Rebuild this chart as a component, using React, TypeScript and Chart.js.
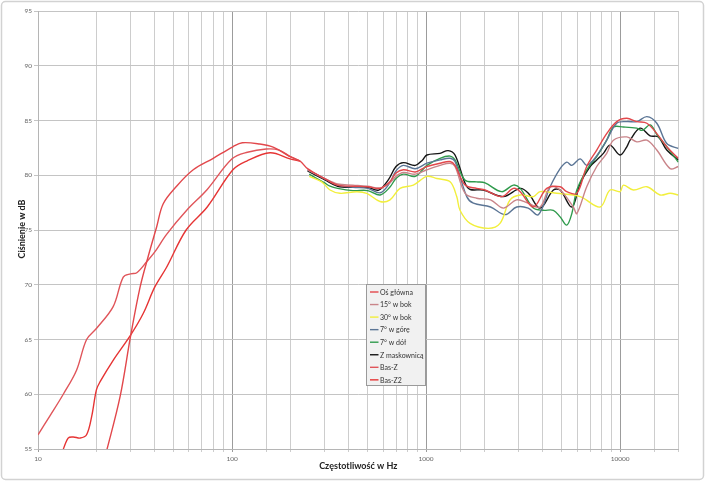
import React, { useEffect, useRef } from 'react';
import { Chart, registerables } from 'chart.js';

Chart.register(...registerables);

// ---------- data (frequency in Hz, level in dB) ----------
const xTickLabels = [10, 100, 1000, 10000];
const yTicks = [55, 60, 65, 70, 75, 80, 85, 90, 95];

const osFreq = [22, 22.7, 26.5, 30, 33.6, 37, 40.9, 44.2, 51.8, 63.1, 80, 101, 113, 139, 164, 199, 224, 245, 300, 350, 420, 500, 580, 650, 700, 764, 880, 960, 1010, 1180, 1330, 1410, 1590, 1824, 2014, 2454, 2818, 3056, 3573, 4188, 4909, 5310, 5985, 6730, 7580, 8530, 9610, 10830, 12190, 13740, 15460, 17400, 19950];
const osDb = [54.2, 55.0, 59.8, 65.3, 69.8, 72.6, 75.3, 77.4, 79.0, 80.5, 81.55, 82.6, 82.97, 82.85, 82.55, 81.7, 81.3, 80.6, 79.7, 79.1, 79.0, 78.95, 78.8, 79.4, 80.2, 80.5, 80.3, 80.6, 80.8, 81.1, 81.25, 80.9, 79.1, 78.8, 78.65, 78.05, 78.8, 78.5, 77.1, 78.8, 78.95, 78.5, 78.35, 80.8, 82.3, 83.8, 84.9, 85.2, 84.9, 84.75, 83.8, 82.6, 81.55];

const b15Freq = [245, 300, 350, 420, 500, 580, 650, 700, 764, 880, 1010, 1180, 1330, 1410, 1590, 1824, 2150, 2504, 2930, 3360, 3870, 4360, 4909, 5740, 5985, 6730, 7580, 8530, 9240, 10830, 12190, 13740, 15460, 18110, 19950];
const b15Db = [80.5, 79.7, 79.2, 79.1, 79.0, 78.85, 79.3, 79.9, 80.25, 80.1, 80.5, 80.9, 81.1, 80.8, 78.35, 77.9, 77.75, 77.0, 77.75, 77.45, 77.1, 78.95, 78.65, 77.1, 76.5, 78.95, 80.8, 82.0, 83.2, 83.5, 83.05, 83.2, 82.3, 80.6, 80.8];

const b30Freq = [250, 290, 320, 360, 440, 495, 579, 652, 734, 860, 1009, 1136, 1330, 1439, 1496, 1686, 2094, 2405, 2710, 3056, 3573, 3870, 4718, 6225, 7885, 8877, 10000, 10400, 11720, 13740, 16070, 18110, 19950];
const b30Db = [79.9, 79.4, 78.65, 78.35, 78.5, 78.35, 77.6, 77.75, 78.8, 79.1, 79.9, 79.7, 79.4, 78.05, 76.8, 75.6, 75.15, 75.6, 77.75, 78.2, 78.05, 78.5, 78.35, 78.05, 77.1, 78.65, 78.5, 79.1, 78.65, 78.95, 78.2, 78.35, 78.2];

const upFreq = [245, 300, 350, 420, 500, 580, 650, 700, 764, 880, 1010, 1180, 1330, 1410, 1621, 1754, 2150, 2553, 2930, 3360, 3792, 4360, 4909, 5310, 5640, 6225, 6730, 7286, 8000, 8530, 9610, 10830, 12190, 13740, 15460, 17400, 19950];
const upDb = [80.5, 79.7, 79.1, 78.9, 78.8, 78.4, 79.3, 80.4, 80.9, 80.6, 81.1, 81.4, 81.55, 81.25, 78.05, 77.45, 77.1, 76.4, 77.1, 77.0, 76.4, 78.95, 80.6, 81.2, 80.9, 81.5, 80.9, 81.4, 82.4, 83.2, 84.75, 84.9, 84.9, 85.35, 84.75, 82.9, 82.45];

const downFreq = [250, 300, 320, 350, 420, 500, 580, 650, 700, 764, 880, 1010, 1180, 1330, 1410, 1590, 1824, 2014, 2454, 2818, 3056, 3573, 4023, 4531, 4909, 5310, 5640, 5985, 6730, 7580, 8530, 9240, 10400, 12190, 13000, 14300, 15500, 17400, 19950];
const downDb = [80.1, 79.3, 79.0, 78.8, 78.6, 78.6, 78.2, 78.9, 79.7, 80.1, 79.9, 80.9, 81.55, 81.75, 81.4, 79.55, 79.4, 79.3, 78.5, 79.1, 78.8, 77.0, 76.8, 76.8, 76.2, 75.45, 76.5, 78.65, 80.5, 81.7, 83.2, 84.4, 84.4, 84.3, 84.1, 84.6, 83.7, 82.6, 81.2];

const grillFreq = [245, 300, 350, 420, 500, 570, 640, 700, 764, 880, 960, 1010, 1180, 1300, 1410, 1590, 1690, 1970, 2504, 3056, 3368, 3870, 4531, 4909, 5640, 6225, 7005, 7580, 8200, 8877, 10000, 10830, 11260, 12680, 14280, 15750, 17400, 19950];
const grillDb = [80.4, 79.6, 79.0, 78.9, 78.9, 78.65, 79.6, 80.8, 81.15, 80.9, 81.4, 81.85, 82.0, 82.25, 81.85, 79.25, 78.7, 78.65, 78.05, 78.8, 78.35, 77.0, 78.65, 78.65, 77.1, 79.25, 80.8, 81.4, 82.0, 82.75, 81.85, 82.6, 83.2, 84.3, 83.6, 83.5, 82.3, 81.4];

const basZFreq = [10, 11.5, 13.5, 15.8, 17.8, 20, 24.4, 27.5, 30, 32.3, 36.3, 40, 46, 58.4, 74.5, 100, 120, 150, 175, 200, 224];
const basZDb = [56.3, 58.0, 60.0, 62.2, 65.0, 66.0, 68.0, 70.7, 71.0, 71.1, 72.1, 73.0, 74.6, 76.8, 78.7, 81.5, 82.1, 82.4, 82.3, 81.7, 81.3];

const basZ2Freq = [13.2, 14.3, 15.2, 16.5, 17.8, 18.9, 20, 20.9, 24.4, 30, 34.9, 40, 46, 58, 74.5, 101, 119, 157, 199, 224];
const basZ2Db = [54.5, 56.0, 56.1, 56.0, 56.3, 57.95, 60.4, 61.15, 63.1, 65.4, 67.4, 69.8, 71.6, 75.0, 77.1, 80.5, 81.3, 82.05, 81.5, 81.3];

const seriesLabels = ['Oś główna', '15° w bok', '30° w bok', '7° w górę', '7° w dół', 'Z maskownicą', 'Bas-Z', 'Bas-Z2'];
const seriesFreqs = [osFreq, b15Freq, b30Freq, upFreq, downFreq, grillFreq, basZFreq, basZ2Freq];
const seriesDbs = [osDb, b15Db, b30Db, upDb, downDb, grillDb, basZDb, basZ2Db];
const seriesColors = ['#e2474b', '#c98489', '#f2ef3c', '#5b7595', '#2f9a4c', '#151515', '#e0555a', '#e63434'];

const xTitle = 'Częstotliwość w Hz';
const yTitle = 'Ciśnienie w dB';

const FONT = 'Lato, "Open Sans", "DejaVu Sans", sans-serif';

const isDecade = (v: number) => Math.abs(Math.log10(v) - Math.round(Math.log10(v))) < 1e-6;

const decorPlugin = {
  id: 'decor',
  beforeDraw(chart: any) {
    const { ctx, width, height } = chart;
    ctx.save();
    ctx.fillStyle = '#ffffff';
    ctx.fillRect(0, 0, width, height);
    ctx.restore();
  },
  afterDraw(chart: any) {
    const { ctx, chartArea, width, height } = chart;
    ctx.save();
    // outer frame
    ctx.strokeStyle = '#d2d2d2';
    ctx.lineWidth = 1.5;
    ctx.beginPath();
    if (ctx.roundRect) ctx.roundRect(1.5, 1.5, width - 3, height - 3, 4);
    else ctx.rect(1.5, 1.5, width - 3, height - 3);
    ctx.stroke();

    // axis titles
    ctx.fillStyle = '#222';
    ctx.font = `bold 9px ${FONT}`;
    ctx.textAlign = 'center';
    ctx.textBaseline = 'middle';
    ctx.fillText(xTitle, (chartArea.left + chartArea.right) / 2, 466);
    ctx.save();
    ctx.translate(22.5, 229);
    ctx.rotate(-Math.PI / 2);
    ctx.fillText(yTitle, 0, 0);
    ctx.restore();

    // legend box
    const lx = 366, ly = 284, lw = 60, lh = 102;
    ctx.fillStyle = '#f1f1f1';
    ctx.fillRect(lx, ly, lw, lh);
    ctx.strokeStyle = '#9a9a9a';
    ctx.lineWidth = 1;
    ctx.strokeRect(lx + 0.5, ly + 0.5, lw - 1, lh - 1);
    ctx.font = `7px ${FONT}`;
    ctx.textAlign = 'left';
    chart.data.datasets.forEach((ds: any, i: number) => {
      const y = 292 + i * 12.55;
      ctx.strokeStyle = ds.borderColor;
      ctx.lineWidth = 1.4;
      ctx.beginPath();
      ctx.moveTo(370, y);
      ctx.lineTo(378.5, y);
      ctx.stroke();
      ctx.fillStyle = '#333';
      ctx.fillText(ds.label, 380, y + 0.5);
    });
    ctx.restore();
  },
};

export default function App() {
  const ref = useRef<HTMLCanvasElement>(null);

  useEffect(() => {
    const canvas = ref.current;
    if (!canvas) return;
    const datasets = seriesLabels.map((label, i) => ({
      label,
      data: seriesFreqs[i].map((f, j) => ({ x: f, y: seriesDbs[i][j] })),
      borderColor: seriesColors[i],
      backgroundColor: seriesColors[i],
      borderWidth: 1.4,
      pointRadius: 0,
      fill: false,
      tension: 0.35,
    }));

    const chart = new Chart(canvas, {
      type: 'line',
      data: { datasets },
      options: {
        animation: false,
        responsive: false,
        maintainAspectRatio: false,
        layout: { padding: { left: 0, right: 26.5, top: 11, bottom: 0 } },
        plugins: { legend: { display: false }, tooltip: { enabled: false } },
        scales: {
          x: {
            type: 'logarithmic',
            min: 10,
            max: 20000,
            afterFit: (s: any) => { s.height = 32; },
            border: { color: '#b5b5b5', width: 1 },
            grid: {
              color: (c: any) => (c.tick && isDecade(c.tick.value) ? '#9c9c9c' : '#cdcdcd'),
              lineWidth: 1,
              tickLength: 3,
            },
            ticks: {
              autoSkip: false,
              maxRotation: 0,
              padding: 3,
              color: '#666',
              font: { family: FONT, size: 6.5 },
              callback: (v: any) => (xTickLabels.some((t) => Math.abs(t - Number(v)) < 1e-6) ? String(v) : ''),
            },
          },
          y: {
            type: 'linear',
            min: 55,
            max: 95,
            afterFit: (s: any) => { s.width = 38; },
            afterBuildTicks: (s: any) => { s.ticks = yTicks.map((v) => ({ value: v })); },
            border: { color: '#b5b5b5', width: 1 },
            grid: { color: '#c4c4c4', lineWidth: 1, tickLength: 4 },
            ticks: {
              padding: 2,
              color: '#666',
              font: { family: FONT, size: 6.5 },
            },
          },
        },
      },
      plugins: [decorPlugin],
    });
    return () => chart.destroy();
  }, []);

  return (
    <div style={{ position: 'fixed', left: 0, top: 0, width: 705, height: 481, background: '#fff' }}>
      <canvas ref={ref} width={705} height={481} style={{ display: 'block', width: 705, height: 481 }} />
    </div>
  );
}
